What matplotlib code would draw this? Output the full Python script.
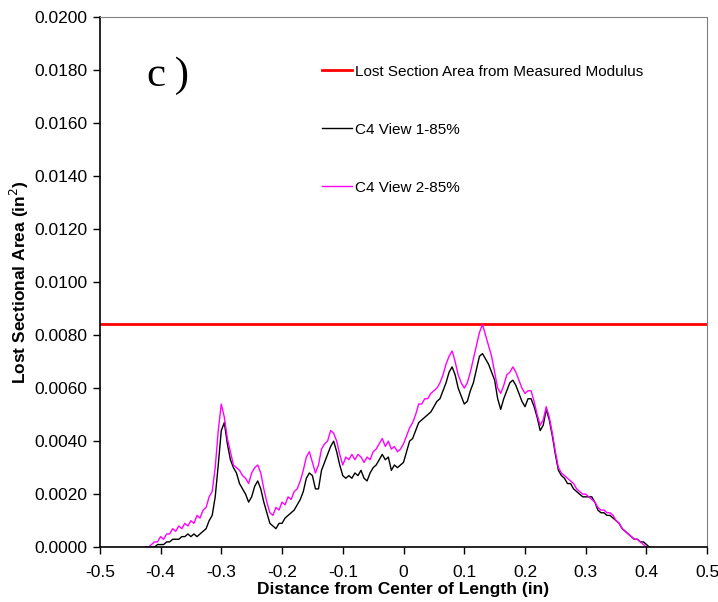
import numpy as np
import matplotlib.pyplot as plt
from matplotlib.ticker import FormatStrFormatter

# position along the bar (in)
dist = [-0.425, -0.420, -0.415, -0.410, -0.405, -0.400, -0.395, -0.390, -0.385, -0.380,
        -0.375, -0.370, -0.365, -0.360, -0.355, -0.350, -0.345, -0.340, -0.335, -0.330,
        -0.325, -0.320, -0.315, -0.310, -0.305, -0.300, -0.295, -0.290, -0.285, -0.280,
        -0.275, -0.270, -0.265, -0.260, -0.255, -0.250, -0.245, -0.240, -0.235, -0.230,
        -0.225, -0.220, -0.215, -0.210, -0.205, -0.200, -0.195, -0.190, -0.185, -0.180,
        -0.175, -0.170, -0.165, -0.160, -0.155, -0.150, -0.145, -0.140, -0.135, -0.130,
        -0.125, -0.120, -0.115, -0.110, -0.105, -0.100, -0.095, -0.090, -0.085, -0.080,
        -0.075, -0.070, -0.065, -0.060, -0.055, -0.050, -0.045, -0.040, -0.035, -0.030,
        -0.025, -0.020, -0.015, -0.010, -0.005, 0.000, 0.005, 0.010, 0.015, 0.020,
        0.025, 0.030, 0.035, 0.040, 0.045, 0.050, 0.055, 0.060, 0.065, 0.070,
        0.075, 0.080, 0.085, 0.090, 0.095, 0.100, 0.105, 0.110, 0.115, 0.120,
        0.125, 0.130, 0.135, 0.140, 0.145, 0.150, 0.155, 0.160, 0.165, 0.170,
        0.175, 0.180, 0.185, 0.190, 0.195, 0.200, 0.205, 0.210, 0.215, 0.220,
        0.225, 0.230, 0.235, 0.240, 0.245, 0.250, 0.255, 0.260, 0.265, 0.270,
        0.275, 0.280, 0.285, 0.290, 0.295, 0.300, 0.305, 0.310, 0.315, 0.320,
        0.325, 0.330, 0.335, 0.340, 0.345, 0.350, 0.355, 0.360, 0.365, 0.370,
        0.375, 0.380, 0.385, 0.390, 0.395, 0.400, 0.405]

# C4 View 1-85%
view1 = [0.0000, 0.0000, 0.0000, 0.0000, 0.0001, 0.0001, 0.0001, 0.0002, 0.0002, 0.0003,
         0.0003, 0.0003, 0.0004, 0.0004, 0.0005, 0.0004, 0.0005, 0.0004, 0.0005, 0.0006,
         0.0007, 0.0010, 0.0012, 0.0019, 0.0031, 0.0044, 0.0047, 0.0039, 0.0033, 0.0030,
         0.0028, 0.0024, 0.0022, 0.0020, 0.0017, 0.0019, 0.0023, 0.0025, 0.0022, 0.0017,
         0.0013, 0.0009, 0.0008, 0.0007, 0.0009, 0.0009, 0.0011, 0.0012, 0.0013, 0.0014,
         0.0016, 0.0018, 0.0021, 0.0026, 0.0028, 0.0027, 0.0022, 0.0022, 0.0029, 0.0032,
         0.0035, 0.0038, 0.0040, 0.0036, 0.0031, 0.0027, 0.0026, 0.0027, 0.0026, 0.0028,
         0.0027, 0.0029, 0.0026, 0.0025, 0.0028, 0.0030, 0.0031, 0.0033, 0.0035, 0.0033,
         0.0034, 0.0029, 0.0031, 0.0030, 0.0031, 0.0032, 0.0036, 0.0040, 0.0041, 0.0044,
         0.0047, 0.0048, 0.0049, 0.0050, 0.0051, 0.0053, 0.0055, 0.0056, 0.0059, 0.0062,
         0.0066, 0.0068, 0.0065, 0.0060, 0.0057, 0.0054, 0.0055, 0.0059, 0.0062, 0.0067,
         0.0072, 0.0073, 0.0071, 0.0069, 0.0066, 0.0063, 0.0056, 0.0052, 0.0056, 0.0059,
         0.0062, 0.0063, 0.0061, 0.0058, 0.0055, 0.0053, 0.0056, 0.0056, 0.0053, 0.0049,
         0.0044, 0.0046, 0.0052, 0.0048, 0.0042, 0.0035, 0.0029, 0.0027, 0.0026, 0.0024,
         0.0024, 0.0022, 0.0021, 0.0020, 0.0019, 0.0019, 0.0019, 0.0019, 0.0017, 0.0014,
         0.0013, 0.0013, 0.0012, 0.0012, 0.0011, 0.0010, 0.0009, 0.0007, 0.0006, 0.0005,
         0.0004, 0.0003, 0.0003, 0.0002, 0.0002, 0.0001, 0.0000]

# C4 View 2-85%
view2 = [0.0000, 0.0000, 0.0001, 0.0002, 0.0002, 0.0004, 0.0003, 0.0005, 0.0005, 0.0007,
         0.0006, 0.0008, 0.0007, 0.0009, 0.0008, 0.0010, 0.0009, 0.0012, 0.0011, 0.0014,
         0.0015, 0.0019, 0.0021, 0.0030, 0.0044, 0.0054, 0.0049, 0.0041, 0.0036, 0.0031,
         0.0030, 0.0029, 0.0027, 0.0026, 0.0024, 0.0028, 0.0030, 0.0031, 0.0028, 0.0022,
         0.0017, 0.0013, 0.0012, 0.0015, 0.0014, 0.0017, 0.0016, 0.0019, 0.0018, 0.0021,
         0.0022, 0.0025, 0.0029, 0.0034, 0.0036, 0.0032, 0.0028, 0.0031, 0.0037, 0.0039,
         0.0040, 0.0044, 0.0043, 0.0040, 0.0035, 0.0031, 0.0034, 0.0033, 0.0035, 0.0033,
         0.0035, 0.0034, 0.0032, 0.0034, 0.0033, 0.0036, 0.0037, 0.0039, 0.0041, 0.0038,
         0.0040, 0.0037, 0.0038, 0.0036, 0.0037, 0.0039, 0.0042, 0.0045, 0.0047, 0.0050,
         0.0054, 0.0054, 0.0056, 0.0056, 0.0058, 0.0059, 0.0060, 0.0062, 0.0065, 0.0069,
         0.0072, 0.0074, 0.0070, 0.0065, 0.0062, 0.0060, 0.0062, 0.0066, 0.0071, 0.0076,
         0.0081, 0.0084, 0.0080, 0.0076, 0.0072, 0.0066, 0.0060, 0.0058, 0.0061, 0.0065,
         0.0066, 0.0068, 0.0066, 0.0063, 0.0060, 0.0058, 0.0059, 0.0059, 0.0055, 0.0050,
         0.0046, 0.0048, 0.0053, 0.0049, 0.0043, 0.0036, 0.0030, 0.0028, 0.0027, 0.0026,
         0.0025, 0.0024, 0.0022, 0.0021, 0.0020, 0.0020, 0.0019, 0.0018, 0.0017, 0.0015,
         0.0014, 0.0014, 0.0013, 0.0013, 0.0012, 0.0010, 0.0009, 0.0007, 0.0006, 0.0005,
         0.0004, 0.0003, 0.0003, 0.0002, 0.0001, 0.0000, 0.0000]

# lost area from measured modulus
modulus_loss = 0.0084

plt.rcParams['font.family'] = ['Liberation Sans', 'DejaVu Sans']

fig = plt.figure(figsize=(7.18, 6.02), dpi=100)
ax = fig.add_axes([0.139, 0.091, 0.846, 0.881])

ax.axhline(modulus_loss, color='#ff0000', lw=2, label='Lost Section Area from Measured Modulus')
ax.plot(dist, view1, color='black', lw=1, label='C4 View 1-85%')
ax.plot(dist, view2, color='#ff00ff', lw=1, label='C4 View 2-85%')

ax.set_xlim(-0.5, 0.5)
ax.set_ylim(0, 0.02)
ax.set_xticks(np.arange(-0.5, 0.51, 0.1))
ax.set_xticklabels(['-0.5', '-0.4', '-0.3', '-0.2', '-0.1', '0', '0.1', '0.2', '0.3', '0.4', '0.5'])
ax.set_yticks(np.arange(0, 0.0201, 0.002))
ax.yaxis.set_major_formatter(FormatStrFormatter('%.4f'))
ax.tick_params(axis='both', labelsize=12.5, direction='out', length=5, width=1, color='black')
ax.tick_params(axis='x', pad=8)
ax.tick_params(axis='y', pad=4)

for s in ['top', 'right']:
    ax.spines[s].set_color('#808080')
for s in ['left', 'bottom']:
    ax.spines[s].set_color('black')
    ax.spines[s].set_linewidth(1.2)

ax.set_xlabel('Distance from Center of Length (in)', fontsize=12.5, fontweight='bold', labelpad=1)
ax.set_ylabel('Lost Sectional Area (in$^2$)', fontsize=12.5, fontweight='bold', labelpad=2)

ax.text(0.077, 0.925, 'c\u2009)', transform=ax.transAxes, fontsize=31,
        family='Liberation Serif', va='top', ha='left')

leg = ax.legend(loc='upper left', bbox_to_anchor=(0.366, 0.91), frameon=False,
                fontsize=11, handlelength=1.95, handletextpad=0.2, labelspacing=2.88,
                borderpad=0, borderaxespad=0)

fig.savefig('out.png', dpi=100)
